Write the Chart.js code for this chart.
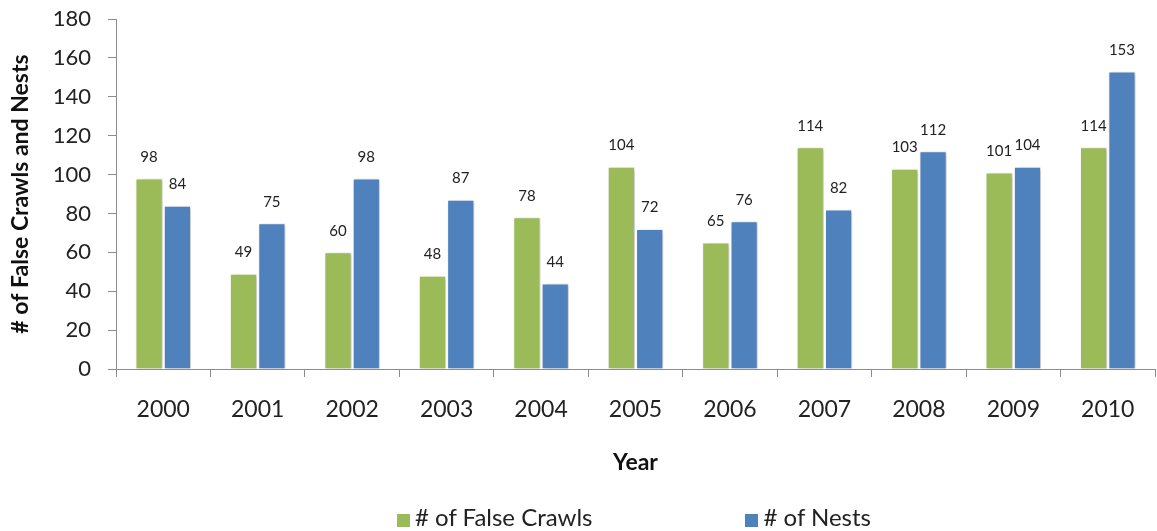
<!DOCTYPE html>
<html>
<head>
<meta charset="utf-8">
<script src="https://cdn.jsdelivr.net/npm/chart.js@4.4.1/dist/chart.umd.min.js"></script>
<style>
  html, body { margin: 0; padding: 0; background: #fff; }
  #wrap { position: relative; width: 1157px; height: 531px; }
  #legend {
    position: absolute; top: 502px; left: 397px;
    font: 24px Lato, sans-serif; color: #222; white-space: nowrap;
  }
  #legend span.sw { display: inline-block; width: 13px; height: 13px; margin-right: 5px; vertical-align: -1px; }
  #legend span.item { display: inline-block; }
</style>
</head>
<body>
<div id="wrap">
  <canvas id="chart" width="1157" height="531"></canvas>
  <div id="legend"></div>
</div>
<script>
// Sea turtle nesting activity by year
const years = ['2000', '2001', '2002', '2003', '2004', '2005', '2006', '2007', '2008', '2009', '2010'];
const falseCrawls = [98, 49, 60, 48, 78, 104, 65, 114, 103, 101, 114];
const nests = [84, 75, 98, 87, 44, 72, 76, 82, 112, 104, 153];
const yTicks = [0, 20, 40, 60, 80, 100, 120, 140, 160, 180];

const green = '#9BBB59';
const blue = '#4F81BD';

// soft drop shadow behind the bars
const barShadow = {
    id: 'barShadow',
    beforeDatasetsDraw(chart) {
        const ctx = chart.ctx;
        ctx.save();
        ctx.shadowColor = 'rgba(0,0,0,0.25)';
        ctx.shadowBlur = 4;
        ctx.shadowOffsetX = 2;
        ctx.shadowOffsetY = 1;
    },
    afterDatasetsDraw(chart) {
        chart.ctx.restore();
    }
};

// value labels above each bar
const valueLabels = {
    id: 'valueLabels',
    afterDatasetsDraw(chart) {
        const ctx = chart.ctx;
        ctx.save();
        ctx.font = '15px Lato, sans-serif';
        ctx.fillStyle = '#222';
        ctx.textAlign = 'center';
        ctx.textBaseline = 'bottom';
        chart.data.datasets.forEach((ds, i) => {
            chart.getDatasetMeta(i).data.forEach((bar, j) => {
                ctx.fillText(ds.data[j], bar.x, bar.y - 14);
            });
        });
        ctx.restore();
    }
};

const datasets = [
    { label: '# of False Crawls', data: falseCrawls, backgroundColor: green },
    { label: '# of Nests', data: nests, backgroundColor: blue }
];

new Chart(document.getElementById('chart'), {
    type: 'bar',
    data: {
        labels: years,
        datasets: datasets.map(d => Object.assign({
            borderColor: '#fff',
            borderWidth: 1,
            categoryPercentage: 0.6,
            barPercentage: 0.96
        }, d))
    },
    options: {
        responsive: false,
        animation: false,
        layout: { padding: { top: 0, right: 2, bottom: 50, left: 0 } },
        plugins: {
            legend: { display: false },
            tooltip: { enabled: false }
        },
        scales: {
            x: {
                afterFit(scale) { scale.height = 112; },
                grid: { drawOnChartArea: false, tickLength: 8, color: '#8c8c8c' },
                border: { color: '#8c8c8c' },
                ticks: { padding: 19, color: '#222', font: { family: 'Lato', size: 23 } },
                title: {
                    display: true, text: 'Year', color: '#111',
                    font: { family: 'Lato', size: 23, weight: 'bold' },
                    padding: { bottom: 5 }
                }
            },
            y: {
                min: 0, max: 180,
                afterFit(scale) {
                    scale.width = 116;
                    scale.paddingTop = 19;
                },
                afterBuildTicks(scale) { scale.ticks = yTicks.map(v => ({ value: v })); },
                grid: { drawOnChartArea: false, tickLength: 8, color: '#8c8c8c' },
                border: { color: '#8c8c8c' },
                ticks: { padding: 17, color: '#222', font: { family: 'Lato', size: 22 } },
                title: {
                    display: true, text: '# of False Crawls and Nests', color: '#111',
                    font: { family: 'Lato', size: 23, weight: 'bold' },
                    padding: { top: 7 }
                }
            }
        }
    },
    plugins: [barShadow, valueLabels]
});

// legend row
const legend = document.getElementById('legend');
datasets.forEach((d, i) => {
    const item = document.createElement('span');
    item.className = 'item';
    if (i > 0) item.style.marginLeft = '153px';
    item.innerHTML = '<span class="sw" style="background:' + d.backgroundColor + '"></span>' + d.label;
    legend.appendChild(item);
});
</script>
</body>
</html>
